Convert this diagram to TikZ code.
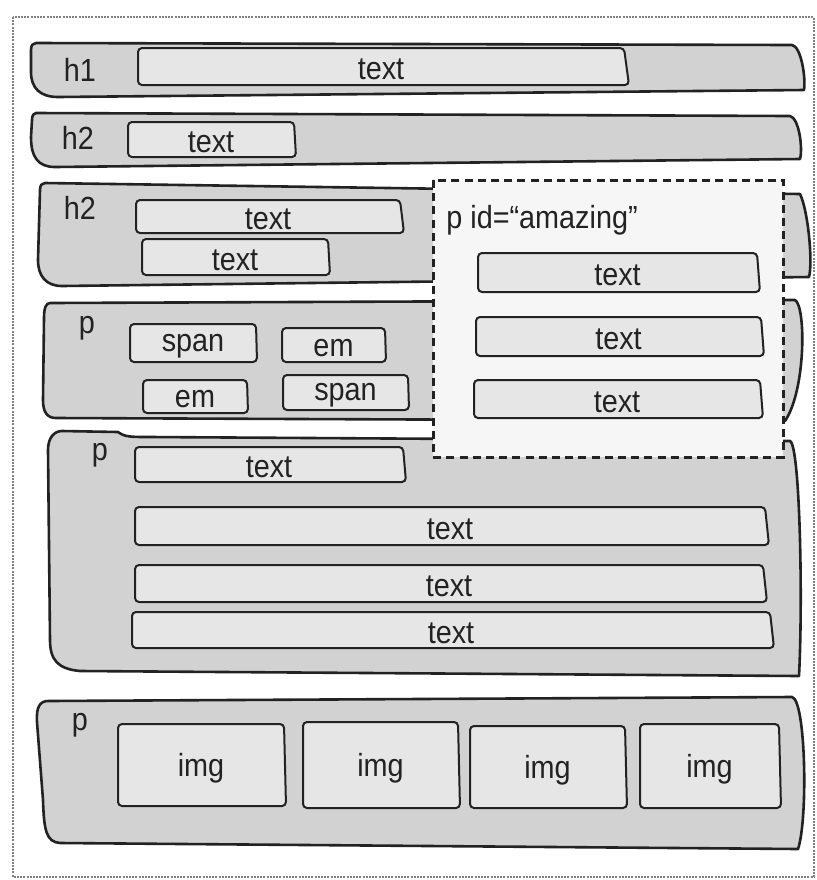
\documentclass[tikz,border=0pt]{standalone}
\usepackage{fontspec}
\setmainfont{Liberation Sans}[FakeStretch=0.9]
\usepackage{xcolor}
\usepackage{tikz}
\usetikzlibrary{calc}
\definecolor{inkline}{HTML}{222222}
\definecolor{boxgray}{HTML}{D2D2D2}
\definecolor{innergray}{HTML}{E6E6E6}
\definecolor{amazefill}{HTML}{F6F6F6}
\tikzstyle{container}=[draw=inkline,fill=boxgray,line width=1.3pt,line join=round]
\tikzstyle{tbox}=[draw=inkline,fill=innergray,line width=1pt,rounded corners=2pt]
\tikzstyle{tag}=[font=\fontsize{16}{18}\selectfont,text=inkline,inner sep=0pt]
\tikzstyle{word}=[tag,yshift=-1.5pt]
\tikzset{amazing/.style={draw=inkline,fill=amazefill,line width=1.5pt,dash pattern=on 4pt off 2.6pt}}

\begin{document}
\begin{tikzpicture}[x=0.5pt,y=-0.5pt]

 \useasboundingbox (0,0) rectangle (817,880);
 \draw[gray,line width=0.6pt,dash pattern=on 1pt off 0.6pt] (13,17) rectangle (814,877);

 %h1
 \path[container] (36,43) -- (792,45) .. controls (801,46) and (806,78) .. (804,90) -- (58,97) .. controls (40,97) and (31,88) .. (31,72) -- (31,50) .. controls (31,45) and (33,43) .. cycle;
 \node[tag] (hone) at (80,70) {h1};

 %h2
 \path[container] (36,113) -- (790,116) .. controls (799,118) and (803,148) .. (800,159) -- (55,167) .. controls (38,167) and (31,157) .. (31,137) -- (32,120) .. controls (32,115) and (34,113) .. cycle;
 \node[tag] (htwo) at (78,138) {h2};

 %h2 again
 \path[container] (45,183) -- (800,194) .. controls (808,210) and (813,262) .. (809,277) -- (62,286) .. controls (46,286) and (38,276) .. (38,260) -- (40,190) .. controls (40,185) and (42,183) .. cycle;
 \node[tag] (hthree) at (80,208) {h2};

 %p with spans
 \path[container] (50,303) -- (795,300) .. controls (806,306) and (806,390) .. (785,421) -- (56,418) .. controls (47,418) and (43,412) .. (43,400) -- (44,318) .. controls (44,308) and (46,303) .. cycle;
 \node[tag] (pone) at (87,328) {p};

 %p with texts
 \path[container] (62,431) -- (118,432) .. controls (125,437) and (130,437) .. (150,437) -- (790,441) .. controls (800,445) and (803,600) .. (799,676) -- (80,671) .. controls (58,669) and (50,660) .. (50,640) -- (48,450) .. controls (48,438) and (54,431) .. cycle;
 \node[tag] (ptwo) at (100,455) {p};

 %p with imgs
 \path[container] (48,701) -- (792,697) .. controls (806,700) and (808,820) .. (798,849) -- (60,843) .. controls (46,842) and (44,830) .. (43,800) -- (37,722) .. controls (36,707) and (40,701) .. cycle;
 \node[tag] (pthree) at (80,725) {p};

 %inner boxes
 \foreach \name/\xa/\ya/\xb/\yb/\s/\label in {
   hbox/138/48/624/85/5/text, htwobox/128/122/294/157/2/text,
   hthreea/136/200/400/233/4/text, hthreeb/142/239/328/275/2/text,
   spana/130/324/256/362/1/span, ema/282/328/385/362/1/em,
   emb/143/380/247/413/1/em, spanb/283/375/408/410/1/span,
   rowa/135/447/403/482/3/text, rowb/135/507/765/545/4/text,
   rowc/135/565/763/602/4/text, rowd/132/612/770/648/4/text,
   imga/118/724/284/806/2/img, imgb/303/722/458/808/2/img,
   imgc/470/726/625/808/2/img, imgd/640/724/779/808/2/img}
 {
   \path[tbox] (\xa,\ya) -- (\xb,\ya) -- (\xb+\s,\yb) -- (\xa,\yb) -- cycle;
   \node[word] (\name) at ({(\xa+\xb)/2},{(\ya+\yb)/2}) {\label};
 }

 %p id amazing
 \path[amazing] (433,180) rectangle (783,457);
 \node[tag,anchor=west] (amazelabel) at (446,220) {p id=“amazing”};

 \foreach \name/\xa/\ya/\xb/\yb/\s/\label in {
   amaza/478/253/757/292/3/text, amazb/476/317/761/356/3/text,
   amazc/474/380/760/418/3/text}
 {
   \path[tbox] (\xa,\ya) -- (\xb,\ya) -- (\xb+\s,\yb) -- (\xa,\yb) -- cycle;
   \node[word] (\name) at ({(\xa+\xb)/2},{(\ya+\yb)/2}) {\label};
 }

\end{tikzpicture}
\end{document}
